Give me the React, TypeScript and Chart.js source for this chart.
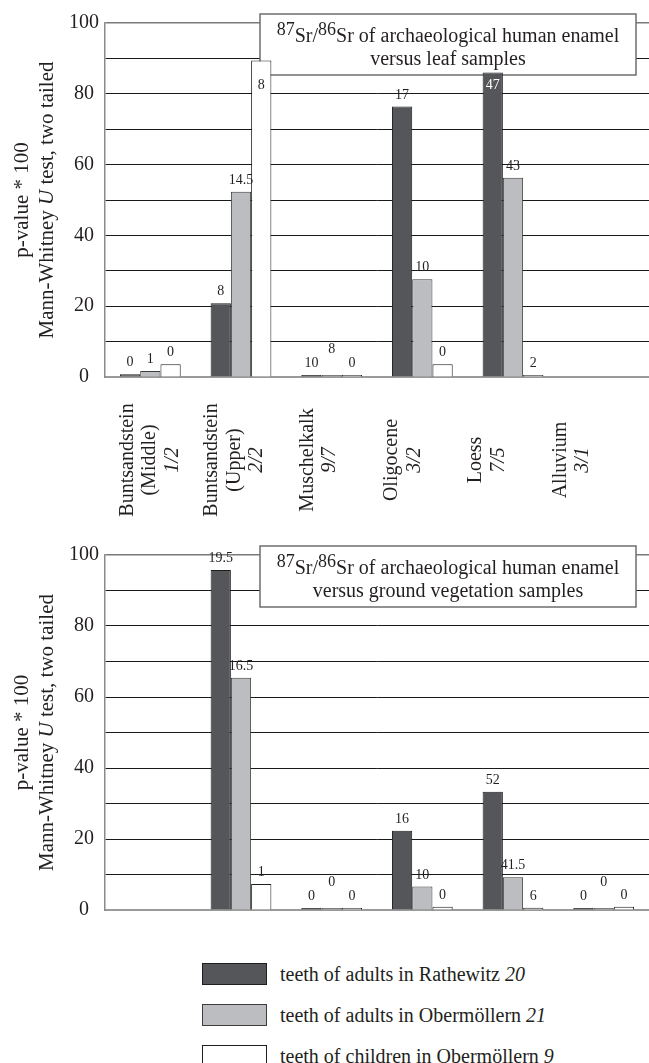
import React, { useEffect, useRef } from 'react';
import { Chart, registerables } from 'chart.js';

Chart.register(...registerables);

const SERIF = '"Liberation Serif", "Times New Roman", Times, serif';
const INK = '#231f20';

// Geological units on the x axis and the number of leaf / ground-vegetation samples
const geoUnits: string[][] = [
  ['Buntsandstein', '(Middle)'],
  ['Buntsandstein', '(Upper)'],
  ['Muschelkalk'],
  ['Oligocene'],
  ['Loess'],
  ['Alluvium'],
];
const sampleRatios = ['1/2', '2/2', '9/7', '3/2', '7/5', '3/1'];

// Tooth groups (legend) with their sample sizes
const seriesNames = [
  'teeth of adults in Rathewitz',
  'teeth of adults in Obermöllern',
  'teeth of children in Obermöllern',
];
const seriesSizes = ['20', '21', '9'];
const seriesFill = ['#555659', '#bcbdc0', '#ffffff'];
const seriesEdge = ['#1e1e1e', '#3c3c3c', '#1e1e1e'];

// p-value * 100, enamel versus leaf samples
const leafRathewitz = [0.8, 20.8, 0.2, 76.4, 86.0, null];
const leafAdultsOber = [1.7, 52.3, 0.2, 27.6, 56.3, null];
const leafChildrenOber = [3.6, 89.4, 0.2, 3.6, 0.3, null];
// U statistics printed above the bars
const leafURathewitz = ['0', '8', '10', '17', '47', null];
const leafUAdultsOber = ['1', '14.5', '8', '10', '43', null];
const leafUChildrenOber = ['0', '8', '0', '0', '2', null];

// p-value * 100, enamel versus ground vegetation samples
const groundRathewitz = [null, 95.8, 0.2, 22.3, 33.3, 0.2];
const groundAdultsOber = [null, 65.4, 0.2, 6.6, 9.2, 0.2];
const groundChildrenOber = [null, 7.3, 0.2, 0.9, 0.6, 0.9];
const groundURathewitz = [null, '19.5', '0', '16', '52', '0'];
const groundUAdultsOber = [null, '16.5', '0', '10', '41.5', '0'];
const groundUChildrenOber = [null, '1', '0', '0', '6', '0'];

const yTicks = [0, 20, 40, 60, 80, 100];

type PanelOpts = {
  titleLine2: string;
  uLabels: (string | null)[][];
  raised: [number, number][];
  showCategories: boolean;
};

// Caption box in the upper right of each plot
function captionRect(a: { left: number; top: number }) {
  return { x: a.left + 155, y: a.top - 9, w: 376, h: 61 };
}

function drawRuns(ctx: CanvasRenderingContext2D, runs: { t: string; font: string; dy: number }[], cx: number, y: number) {
  let total = 0;
  runs.forEach((r) => {
    ctx.font = r.font;
    total += ctx.measureText(r.t).width;
  });
  let x = cx - total / 2;
  ctx.textAlign = 'left';
  runs.forEach((r) => {
    ctx.font = r.font;
    ctx.fillText(r.t, x, y + r.dy);
    x += ctx.measureText(r.t).width;
  });
}

const panelPlugin = {
  id: 'panel',
  beforeDatasetsDraw(chart: any, _args: any, opts: PanelOpts) {
    const { ctx, chartArea } = chart;
    const b = captionRect(chartArea);
    ctx.save();
    ctx.fillStyle = '#ffffff';
    ctx.fillRect(b.x, b.y, b.w, b.h);
    ctx.strokeStyle = '#6e6e6e';
    ctx.lineWidth = 1.5;
    ctx.strokeRect(b.x, b.y, b.w, b.h);
    ctx.fillStyle = INK;
    ctx.textBaseline = 'alphabetic';
    const cx = b.x + b.w / 2;
    const main = `20px ${SERIF}`;
    const sup = `18px ${SERIF}`;
    drawRuns(
      ctx,
      [
        { t: '87', font: sup, dy: -7 },
        { t: 'Sr/', font: main, dy: 0 },
        { t: '86', font: sup, dy: -7 },
        { t: 'Sr of archaeological human enamel', font: main, dy: 0 },
      ],
      cx,
      b.y + 28
    );
    drawRuns(ctx, [{ t: opts.titleLine2, font: main, dy: 0 }], cx, b.y + 51);
    ctx.restore();
  },
  afterDatasetsDraw(chart: any, _args: any, opts: PanelOpts) {
    const { ctx, chartArea } = chart;
    const b = captionRect(chartArea);
    ctx.save();
    ctx.font = `14px ${SERIF}`;
    ctx.textAlign = 'center';
    ctx.textBaseline = 'alphabetic';
    chart.data.datasets.forEach((_ds: any, si: number) => {
      const meta = chart.getDatasetMeta(si);
      const texts = opts.uLabels[si];
      meta.data.forEach((bar: any, ci: number) => {
        const t = texts[ci];
        if (t == null) return;
        const { x, y } = bar.getProps(['x', 'y'], true);
        const lift = opts.raised.some(([s, c]) => s === si && c === ci) ? 14 : 0;
        let base = y - 8 - lift;
        const w = ctx.measureText(t).width;
        // keep labels clear of the caption box
        if (x + w / 2 > b.x && x - w / 2 < b.x + b.w && base - 10 < b.y + b.h) {
          base = b.y + b.h + 14;
        }
        const inside = base - 5 > y;
        ctx.fillStyle = inside && si === 0 ? '#ffffff' : INK;
        ctx.fillText(t, x, base);
      });
    });
    ctx.restore();
  },
  afterDraw(chart: any, _args: any, opts: PanelOpts) {
    const { ctx, chartArea } = chart;
    const midY = (chartArea.top + chartArea.bottom) / 2;
    ctx.save();
    ctx.fillStyle = INK;
    ctx.textBaseline = 'middle';
    // y axis title, two rotated lines
    ctx.translate(22, midY);
    ctx.rotate(-Math.PI / 2);
    drawRuns(ctx, [{ t: 'p-value * 100', font: `21px ${SERIF}`, dy: 0 }], 0, 0);
    drawRuns(
      ctx,
      [
        { t: 'Mann-Whitney ', font: `21px ${SERIF}`, dy: 0 },
        { t: 'U', font: `italic 21px ${SERIF}`, dy: 0 },
        { t: ' test, two tailed', font: `21px ${SERIF}`, dy: 0 },
      ],
      0,
      25
    );
    ctx.restore();

    if (!opts.showCategories) return;
    const xs = chart.scales.x;
    const spread = 0.93;
    ctx.save();
    ctx.fillStyle = INK;
    geoUnits.forEach((lines, i) => {
      const all = [...lines, sampleRatios[i]];
      const cx = xs.left + 3 + (xs.getPixelForValue(i) - xs.left) * spread;
      const n = all.length;
      all.forEach((t, j) => {
        ctx.save();
        ctx.translate(cx + (j - (n - 1) / 2) * 22.5, chartArea.bottom + 83);
        ctx.rotate(-Math.PI / 2);
        ctx.font = j === n - 1 ? `italic 20px ${SERIF}` : `20px ${SERIF}`;
        ctx.textAlign = 'center';
        ctx.textBaseline = 'middle';
        ctx.fillText(t, 0, 0);
        ctx.restore();
      });
    });
    ctx.restore();
  },
};

type PanelProps = {
  width: number;
  height: number;
  top: number;
  plotTop: number;
  plotBottom: number;
  values: (number | null)[][];
  opts: PanelOpts;
};

function Panel({ width, height, top, plotTop, plotBottom, values, opts }: PanelProps) {
  const ref = useRef<HTMLCanvasElement | null>(null);

  useEffect(() => {
    if (!ref.current) return;
    const chart = new Chart(ref.current, {
      type: 'bar',
      data: {
        labels: geoUnits.map((l) => l.join(' ')),
        datasets: values.map((v, i) => ({
          label: seriesNames[i],
          data: v,
          backgroundColor: seriesFill[i],
          borderColor: seriesEdge[i],
          borderWidth: 1,
          minBarLength: 2,
          categoryPercentage: 0.67,
          barPercentage: 1,
        })),
      },
      options: {
        responsive: false,
        animation: false,
        events: [],
        layout: { padding: { top: plotTop, left: 0, right: 0, bottom: 0 } },
        font: { family: SERIF },
        scales: {
          x: {
            grid: { display: false, drawTicks: false },
            border: { color: '#9a9a9a', width: 2 },
            ticks: { display: false },
            afterFit: (s: any) => {
              s.height = height - plotBottom;
            },
          },
          y: {
            min: 0,
            max: 100,
            afterFit: (s: any) => {
              s.width = 105;
            },
            afterBuildTicks: (s: any) => {
              s.ticks = Array.from({ length: 11 }, (_, k) => ({ value: k * 10 }));
            },
            grid: {
              drawTicks: false,
              color: (c: any) =>
                c.tick.value === 100 ? '#7a7a7a' : c.tick.value === 0 ? 'rgba(0,0,0,0)' : '#1a1a1a',
              lineWidth: (c: any) => (c.tick.value === 100 ? 1.5 : 1),
            },
            border: { color: '#8a8a8a', width: 1.5 },
            ticks: {
              autoSkip: false,
              padding: 6,
              crossAlign: 'center',
              color: INK,
              font: { family: SERIF, size: 20 },
              callback: (v: any) => (yTicks.includes(Number(v)) ? String(v) : ''),
            },
          },
        },
        plugins: {
          legend: { display: false },
          tooltip: { enabled: false },
          panel: opts,
        } as any,
      },
      plugins: [panelPlugin],
    });
    return () => chart.destroy();
  }, []);

  return (
    <canvas
      ref={ref}
      width={width}
      height={height}
      style={{ position: 'absolute', left: 0, top, width, height }}
    />
  );
}

export default function App() {
  const W = 649;
  return (
    <div
      style={{
        position: 'absolute',
        left: 0,
        top: 0,
        width: W,
        height: 1063,
        background: '#ffffff',
        overflow: 'hidden',
        fontFamily: SERIF,
        color: INK,
      }}
    >
      <Panel
        width={W}
        height={520}
        top={0}
        plotTop={23}
        plotBottom={377}
        values={[leafRathewitz, leafAdultsOber, leafChildrenOber]}
        opts={{
          titleLine2: 'versus leaf samples',
          uLabels: [leafURathewitz, leafUAdultsOber, leafUChildrenOber],
          raised: [[1, 2]],
          showCategories: true,
        }}
      />
      <Panel
        width={W}
        height={420}
        top={520}
        plotTop={35}
        plotBottom={390}
        values={[groundRathewitz, groundAdultsOber, groundChildrenOber]}
        opts={{
          titleLine2: 'versus ground vegetation samples',
          uLabels: [groundURathewitz, groundUAdultsOber, groundUChildrenOber],
          raised: [
            [1, 2],
            [1, 5],
          ],
          showCategories: false,
        }}
      />
      {seriesNames.map((name, i) => (
        <div
          key={name}
          style={{
            position: 'absolute',
            left: 202,
            top: 963 + i * 41,
            height: 22,
            display: 'flex',
            alignItems: 'center',
            whiteSpace: 'nowrap',
          }}
        >
          <div
            style={{
              width: 65,
              height: 22,
              boxSizing: 'border-box',
              background: seriesFill[i],
              border: `1px solid ${seriesEdge[i]}`,
              marginRight: 13,
            }}
          />
          <span style={{ fontSize: 20, lineHeight: '22px' }}>
            {name} <i>{seriesSizes[i]}</i>
          </span>
        </div>
      ))}
    </div>
  );
}
